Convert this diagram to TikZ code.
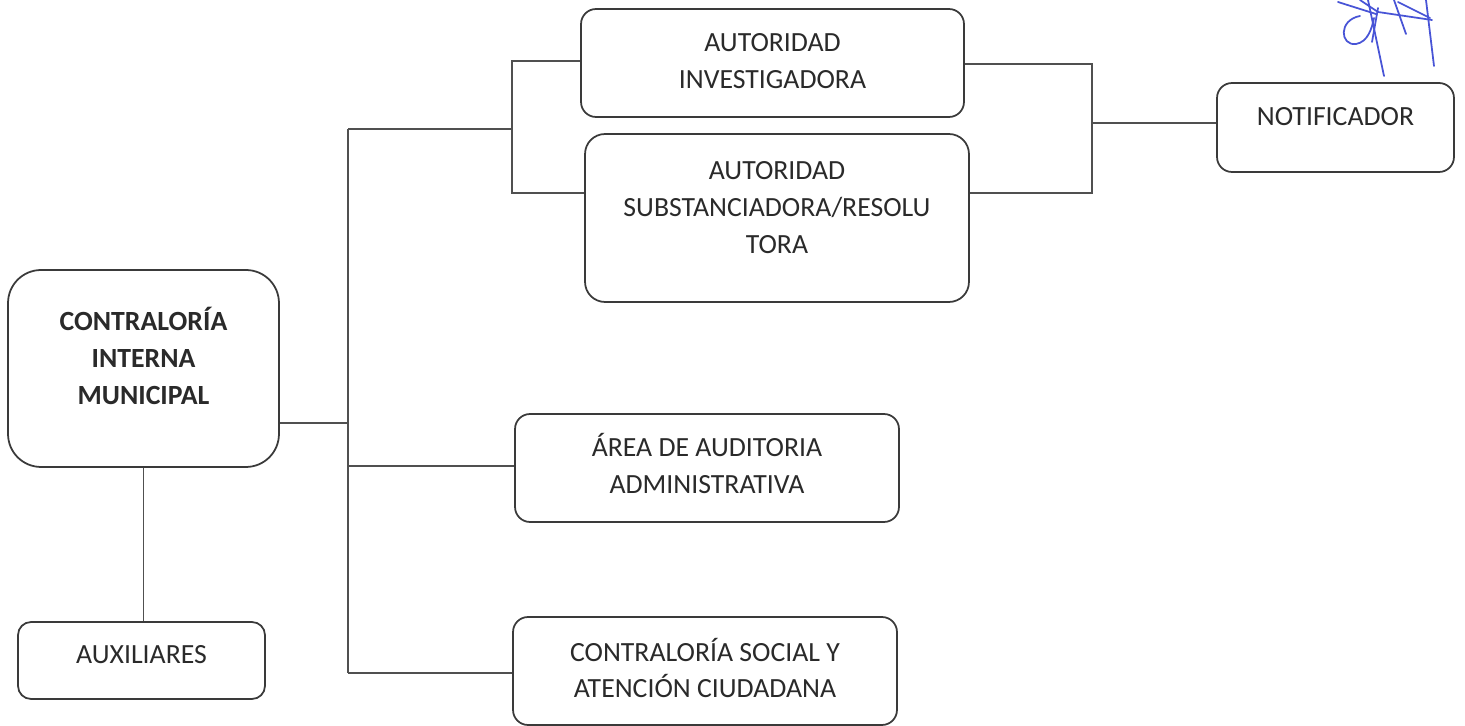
\documentclass[tikz,border=0pt]{standalone}
\usepackage{fontspec}
\setmainfont{Carlito}

\definecolor{boxgray}{HTML}{3A3A3A}
\definecolor{linegray}{HTML}{505050}
\definecolor{textgray}{HTML}{2A2A2A}
\definecolor{inkblue}{RGB}{72,84,214}

\tikzset{
    unit/.style={draw=boxgray, line width=1pt, rounded corners=0.3cm, inner sep=0pt,
        align=flush center, anchor=base, text=textgray, font=\fontsize{15.8}{20.8}\selectfont},
    link/.style={draw=linegray, line width=0.8pt},
    sign/.style={draw=inkblue, line width=1pt, line cap=round, line join=round}
}

\begin{document}
\begin{tikzpicture}[x=0.02cm, y=-0.02cm]
    \useasboundingbox (0,0) rectangle (1465,726);

    % boxes
    \node[unit, rounded corners=0.66cm, text width=5.42cm, text height=1.22cm, text depth=2.72cm,
        font=\fontsize{15.8}{20.8}\selectfont\bfseries] (cim) at (143.5,331) {CONTRALORÍA\\INTERNA\\MUNICIPAL};
    \node[unit, rounded corners=0.26cm, text width=4.94cm, text height=0.82cm, text depth=0.72cm] (aux) at (141.5,663) {AUXILIARES};
    \node[unit, text width=7.66cm, text height=0.86cm, text depth=1.30cm] (ainv) at (772.5,52) {AUTORIDAD\\INVESTIGADORA};
    \node[unit, rounded corners=0.4cm, text width=7.68cm, text height=0.92cm, text depth=2.44cm] (asub) at (777,180) {AUTORIDAD\\SUBSTANCIADORA/RESOLU\\TORA};
    \node[unit, text width=4.74cm, text height=0.86cm, text depth=0.92cm] (notif) at (1335.5,126) {NOTIFICADOR};
    \node[unit, text width=7.68cm, text height=0.86cm, text depth=1.30cm] (audit) at (707,457) {ÁREA DE AUDITORIA\\ADMINISTRATIVA};
    \node[unit, text width=7.68cm, text height=0.88cm, text depth=1.28cm] (social) at (705,661) {CONTRALORÍA SOCIAL Y\\ATENCIÓN CIUDADANA};

    % junctions
    \coordinate (ja) at (348,129);
    \coordinate (jc) at (348,423);
    \coordinate (jb) at (348,466);
    \coordinate (jd) at (348,673);
    \coordinate (jt) at (512,129);
    \coordinate (jt1) at (512,61);
    \coordinate (jt2) at (512,193);
    \coordinate (jr) at (1092,123);
    \coordinate (jr1) at (1092,64);
    \coordinate (jr2) at (1092,193);

    % connectors
    \draw[link] (jc -| cim.east) -- (jc);
    \draw[link] (ja) -- (jd);
    \draw[link] (jb) -- (jb -| audit.west);
    \draw[link] (jd) -- (jd -| social.west);
    \draw[link] (ja) -- (jt);
    \draw[link] (jt1 -| ainv.west) -- (jt1) -- (jt2) -- (jt2 -| asub.west);
    \draw[link] (jr1 -| ainv.east) -- (jr1) -- (jr2) -- (jr2 -| asub.east);
    \draw[link] (jr) -- (jr -| notif.west);
    \draw[link] (cim.south) -- (cim.south |- aux.north);

    % signature
    \draw[sign] (1360,16) .. controls (1338,20) and (1340,46) .. (1356,44) .. controls (1368,42) and (1372,28) .. (1374,18);
    \draw[sign] (1368,0) -- (1384,76);
    \draw[sign] (1360,0) -- (1378,12) -- (1432,20);
    \draw[sign] (1338,2) -- (1376,14);
    \draw[sign] (1394,0) -- (1406,34);
    \draw[sign] (1398,2) -- (1430,18);
    \draw[sign] (1426,0) -- (1434,66);
    \draw[sign] (1378,8) -- (1372,42);
\end{tikzpicture}
\end{document}
